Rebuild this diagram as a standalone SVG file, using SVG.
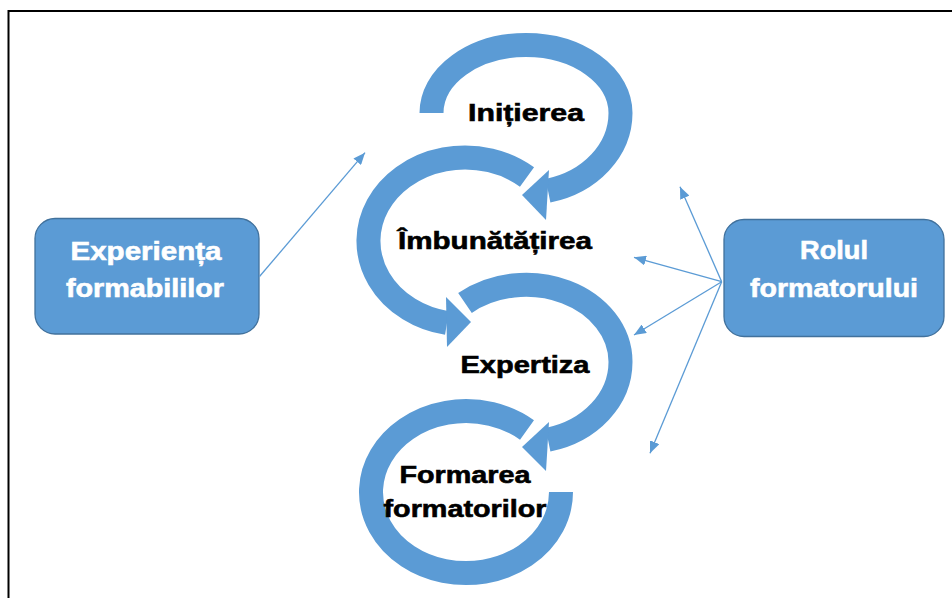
<svg xmlns="http://www.w3.org/2000/svg" width="952" height="598" viewBox="0 0 952 598">
  <defs>
    <marker id="ah" markerUnits="userSpaceOnUse" markerWidth="12" markerHeight="10" refX="12" refY="5" orient="auto">
      <path d="M0,0 L12,5 L0,10 z" fill="#5B9BD5"/>
    </marker>
    <style>
      .ring { fill: none; stroke: #5B9BD5; stroke-width: 24; stroke-linecap: butt; }
      .head { fill: #5B9BD5; }
      .box { fill: #5B9BD5; stroke: #41719C; stroke-width: 1.3; }
      .wt { font-family: "Liberation Sans", Arial, sans-serif; font-weight: bold; font-size: 25px; fill: #FFFFFF; stroke: #FFFFFF; stroke-width: 0.6; text-anchor: middle; }
      .bt { font-family: "Liberation Sans", Arial, sans-serif; font-weight: bold; font-size: 24px; fill: #000000; stroke: #000000; stroke-width: 0.6; text-anchor: middle; }
      .conn { stroke: #5B9BD5; stroke-width: 1.3; fill: none; marker-end: url(#ah); }
    </style>
  </defs>
  <rect x="0" y="0" width="952" height="598" fill="#FFFFFF"/>
  <path d="M 8.5 598 V 11 H 952" fill="none" stroke="#000000" stroke-width="2"/>

  <g id="initierea">
    <path class="ring" d="M 431.5 113 A 94.5 68 0 0 1 620.5 113 A 94.5 80 0 0 1 548 190.7"/>
    <polygon class="head" points="549,170 522,195 546,220"/>
    <text class="bt" x="526" y="121" textLength="116" lengthAdjust="spacingAndGlyphs">Inițierea</text>
  </g>

  <g id="imbunatatirea">
    <path class="ring" d="M 527 177 A 96.5 83.5 0 1 0 447 323"/>
    <polygon class="head" points="446,297 471,322 447,347"/>
    <text class="bt" x="495" y="249" textLength="194" lengthAdjust="spacingAndGlyphs">Îmbunătățirea</text>
  </g>

  <g id="expertiza">
    <path class="ring" d="M 465 303 A 94.5 77 0 0 1 620.5 362 A 94.5 80 0 0 1 548 439.7"/>
    <polygon class="head" points="549,422 522,447 546,471"/>
    <text class="bt" x="525" y="373" textLength="129" lengthAdjust="spacingAndGlyphs">Expertiza</text>
  </g>

  <g id="formarea">
    <path class="ring" d="M 527 430 A 95 81 0 1 0 561 492"/>
    <text class="bt" x="465" y="483" textLength="131" lengthAdjust="spacingAndGlyphs">Formarea</text>
    <text class="bt" x="465" y="517" textLength="163" lengthAdjust="spacingAndGlyphs">formatorilor</text>
  </g>

  <g id="experienta">
    <rect class="box" x="35" y="218.5" width="224" height="115.5" rx="20" ry="20"/>
    <text class="wt" x="146" y="260" textLength="151" lengthAdjust="spacingAndGlyphs">Experiența</text>
    <text class="wt" x="145" y="297" textLength="158" lengthAdjust="spacingAndGlyphs">formabililor</text>
  </g>

  <g id="rolul">
    <rect class="box" x="724" y="219.5" width="220" height="117" rx="20" ry="20"/>
    <text class="wt" x="834" y="259" textLength="68" lengthAdjust="spacingAndGlyphs">Rolul</text>
    <text class="wt" x="834" y="297" textLength="168" lengthAdjust="spacingAndGlyphs">formatorului</text>
  </g>

  <g id="connectors">
    <line class="conn" x1="259.5" y1="276.5" x2="365" y2="152.7"/>
    <line class="conn" x1="721.7" y1="281.7" x2="680" y2="186.7"/>
    <line class="conn" x1="721.7" y1="281.7" x2="634" y2="257.3"/>
    <line class="conn" x1="721.7" y1="281.7" x2="634" y2="335"/>
    <line class="conn" x1="721.7" y1="281.7" x2="650" y2="453.3"/>
  </g>
</svg>
